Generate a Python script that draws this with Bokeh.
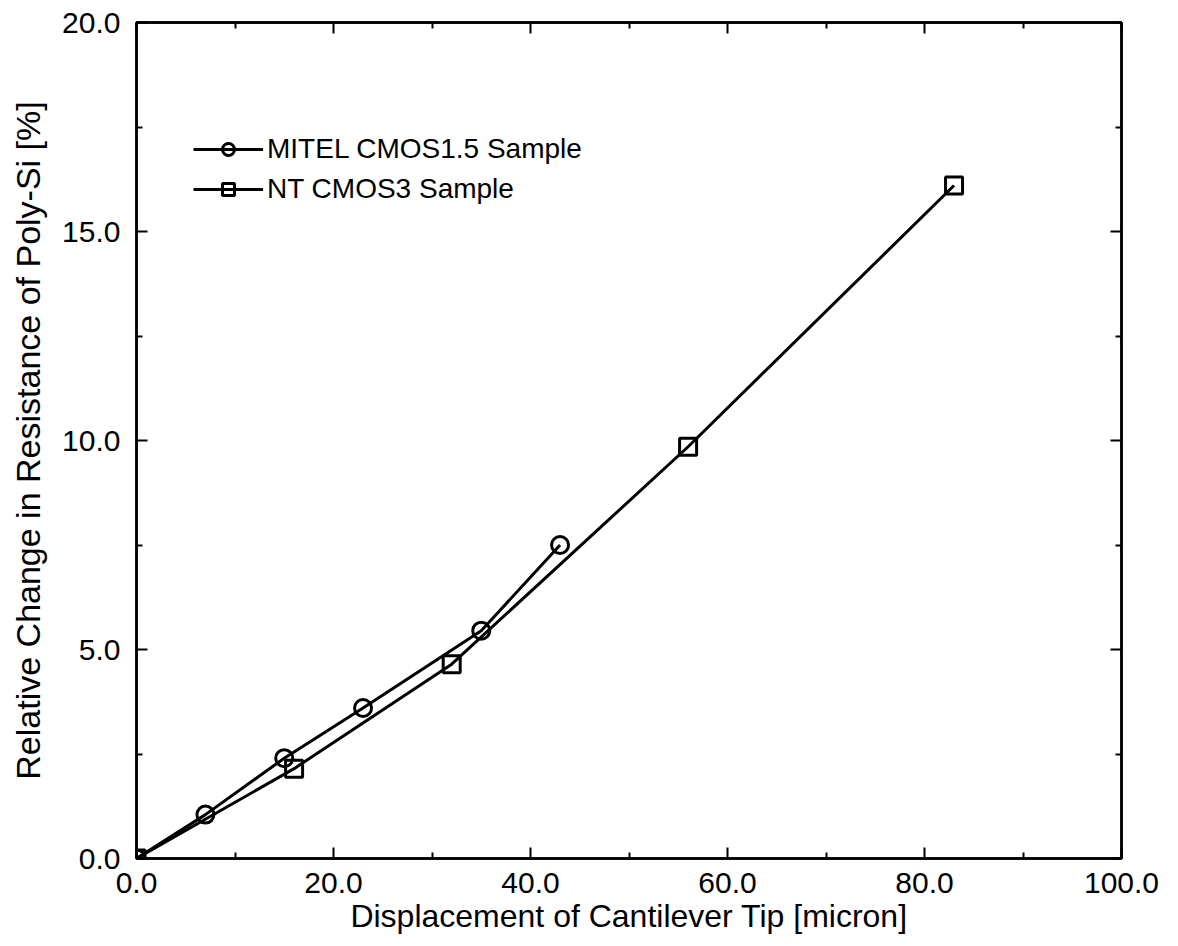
from bokeh.plotting import figure
from bokeh.models import (LinearAxis, Range1d, FixedTicker, NumeralTickFormatter,
                          Legend, LegendItem, CustomJSTickFormatter)
from bokeh.embed import file_html
from bokeh.resources import INLINE

# Data
mitel_x = [0.0, 7.0, 15.0, 23.0, 35.0, 43.0]
mitel_y = [0.0, 1.05, 2.4, 3.6, 5.45, 7.5]
nt_x = [0.0, 16.0, 32.0, 56.0, 83.0]
nt_y = [0.0, 2.15, 4.65, 9.85, 16.1]

x_ticks = [0, 20, 40, 60, 80, 100]
y_ticks = [0, 5, 10, 15, 20]
x_minor = [10, 30, 50, 70, 90]
y_minor = [2.5, 7.5, 12.5, 17.5]

FONT = "Liberation Sans"

p = figure(width=1178, height=946, output_backend="svg", toolbar_location=None,
           x_range=Range1d(0, 100), y_range=Range1d(0, 20),
           min_border_left=136, min_border_right=57, min_border_top=22,
           min_border_bottom=88, background_fill_color="white",
           border_fill_color="white")
p.grid.visible = False
p.outline_line_color = "black"
p.outline_line_width = 2.5

def style_axis(ax, ticks, minor, show_labels):
    ax.ticker = FixedTicker(ticks=ticks, minor_ticks=minor)
    ax.major_tick_in = 11
    ax.major_tick_out = 0
    ax.minor_tick_in = 6
    ax.minor_tick_out = 0
    ax.major_tick_line_width = 2
    ax.minor_tick_line_width = 2
    ax.major_tick_line_color = "black"
    ax.minor_tick_line_color = "black"
    ax.axis_line_color = "black"
    ax.axis_line_width = 2.5
    ax.major_label_text_font = FONT
    ax.major_label_text_color = "black"
    ax.axis_label_text_font = FONT
    ax.axis_label_text_font_style = "normal"
    ax.axis_label_text_color = "black"
    if show_labels:
        ax.formatter = NumeralTickFormatter(format="0.0")
        ax.major_label_text_font_size = "30px"
    else:
        ax.formatter = CustomJSTickFormatter(code="return ''")
        ax.major_label_text_font_size = "1px"
        ax.major_label_standoff = 0

xa = p.xaxis[0]
ya = p.yaxis[0]
style_axis(xa, x_ticks, x_minor, True)
style_axis(ya, y_ticks, y_minor, True)
xa.axis_label = "Displacement of Cantilever Tip [micron]"
xa.axis_label_text_font_size = "32px"
xa.major_label_standoff = 14
xa.axis_label_standoff = 2
ya.axis_label = "Relative Change in Resistance of Poly-Si [%]"
ya.axis_label_text_font_size = "34px"
ya.major_label_standoff = 16
ya.axis_label_standoff = 12

top = LinearAxis()
right = LinearAxis()
style_axis(top, x_ticks, x_minor, False)
style_axis(right, y_ticks, y_minor, False)
p.add_layout(top, "above")
p.add_layout(right, "right")

LW = 3
l1 = p.line(mitel_x, mitel_y, line_color="black", line_width=LW)
s1 = p.scatter(mitel_x, mitel_y, marker="circle", size=17, fill_alpha=0,
               line_color="black", line_width=LW)
l2 = p.line(nt_x, nt_y, line_color="black", line_width=LW)
s2 = p.scatter(nt_x, nt_y, marker="square", size=17, fill_alpha=0,
               line_color="black", line_width=LW)

legend = Legend(items=[
    LegendItem(label="MITEL CMOS1.5 Sample", renderers=[l1, s1]),
    LegendItem(label="NT CMOS3 Sample", renderers=[l2, s2]),
], location=(57, 653))
legend.border_line_alpha = 0
legend.background_fill_alpha = 0
legend.padding = 0
legend.margin = 0
legend.spacing = 8
legend.glyph_width = 70
legend.glyph_height = 30
legend.label_height = 30
legend.label_standoff = 4
legend.label_text_font = FONT
legend.label_text_font_size = "28px"
legend.label_text_color = "black"
legend.label_text_baseline = "middle"
p.add_layout(legend, "center")

open("out.html", "w").write(file_html(p, INLINE))
